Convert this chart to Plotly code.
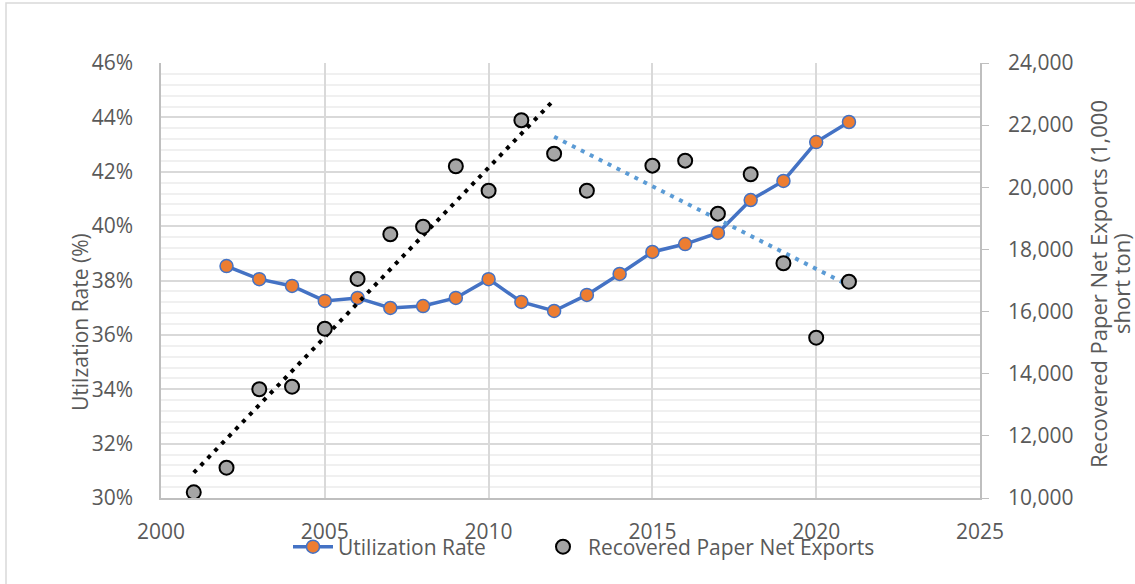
import numpy as np
import plotly.graph_objects as go

years = list(range(2001, 2022))
util_years = list(range(2002, 2022))
util_rate = [38.53, 38.05, 37.80, 37.25, 37.36, 36.99, 37.06, 37.36, 38.05, 37.21,
             36.88, 37.47, 38.24, 39.05, 39.34, 39.75, 40.96, 41.66, 43.09, 43.83]
exports = [10183, 10975, 13499, 13583, 15450, 17050, 18488, 18733, 20677, 19892,
           22158, 21083, 19892, None, 20697, 20858, 19152, 20420, 17555, 15160, 16963]

x_ticks = [2000, 2005, 2010, 2015, 2020, 2025]

# linear trend lines computed from the data
def trend(y0, y1):
    xs = np.array([y for y, v in zip(years, exports) if v is not None and y0 <= y <= y1], float)
    vs = np.array([v for y, v in zip(years, exports) if v is not None and y0 <= y <= y1], float)
    k, b = np.polyfit(xs, vs, 1)
    tx = np.array([y0, y1], float)
    return tx, k * tx + b

t1x, t1y = trend(2001, 2012)
t2x, t2y = trend(2012, 2021)

FONT = "Open Sans"
GRAY = "#595959"
W, H = 1135, 584
L, R, T, B = 161, 155, 63, 86
pw, ph = W - L - R, H - T - B

def px2x(px):
    return (px - L) / pw

def px2y(py):
    return (H - B - py) / ph

fig = go.Figure()

fig.add_trace(go.Scatter(
    x=t1x, y=t1y, yaxis="y2", mode="lines",
    line=dict(color="black", width=4, dash="4px,6px"),
    showlegend=False, hoverinfo="skip"))
fig.add_trace(go.Scatter(
    x=t2x, y=t2y, yaxis="y2", mode="lines",
    line=dict(color="#5B9BD5", width=4, dash="4px,6px"),
    showlegend=False, hoverinfo="skip"))

fig.add_trace(go.Scatter(
    x=util_years, y=util_rate, mode="lines+markers", name="Utilization Rate",
    line=dict(color="#4472C4", width=3.5), legend="legend",
    marker=dict(color="#ED7D31", size=13, line=dict(color="#4472C4", width=1.5))))

fig.add_trace(go.Scatter(
    x=years, y=exports, yaxis="y2", mode="markers", name="Recovered Paper Net Exports",
    legend="legend2",
    marker=dict(color="#A5A5A5", size=14, line=dict(color="black", width=2))))

leg_common = dict(orientation="h", xanchor="left", y=px2y(547), yanchor="middle",
                  font=dict(size=21, color=GRAY), bgcolor="rgba(0,0,0,0)",
                  itemwidth=40)

fig.update_layout(
    width=W, height=H,
    margin=dict(l=L, r=R, t=T, b=B, autoexpand=False),
    paper_bgcolor="white", plot_bgcolor="white",
    font=dict(family=FONT, size=21, color=GRAY),
    xaxis=dict(range=[2000, 2025], tickvals=x_ticks, showgrid=True,
               gridcolor="#d9d9d9", gridwidth=1.5, showline=True,
               linecolor="#bfbfbf", linewidth=1.5, zeroline=False,
               ticks="", ticklabelstandoff=14, tickfont=dict(size=21, color=GRAY)),
    yaxis=dict(range=[30, 46], dtick=2, ticksuffix="%", showgrid=True,
               gridcolor="#d9d9d9", gridwidth=1.5, showline=True,
               linecolor="#bfbfbf", linewidth=1.5, zeroline=False,
               ticks="", ticklabelstandoff=22,
               minor=dict(dtick=0.4, showgrid=True, gridcolor="#f0f0f0", gridwidth=1.5),
               tickfont=dict(size=21, color=GRAY)),
    yaxis2=dict(range=[10000, 24000], dtick=2000, tickformat=",", overlaying="y",
                side="right", showgrid=False, showline=True, linecolor="#bfbfbf",
                linewidth=1.5, zeroline=False, ticks="outside", ticklen=7,
                tickcolor="#bfbfbf", ticklabelstandoff=15,
                tickfont=dict(size=21, color=GRAY)),
    legend=dict(x=px2x(288), **leg_common),
    legend2=dict(x=px2x(538), **leg_common),
    showlegend=True,
)

fig.add_annotation(text="Utilzation Rate (%)", xref="paper", yref="paper",
                   x=px2x(80), y=px2y(322), textangle=-90, showarrow=False,
                   font=dict(size=21, color=GRAY), xanchor="center", yanchor="middle")
fig.add_annotation(text="Recovered Paper Net Exports (1,000",
                   xref="paper", yref="paper", x=px2x(1098), y=px2y(284),
                   textangle=-90, showarrow=False,
                   font=dict(size=22, color=GRAY), xanchor="center", yanchor="middle")
fig.add_annotation(text="short ton)",
                   xref="paper", yref="paper", x=px2x(1121), y=px2y(284),
                   textangle=-90, showarrow=False,
                   font=dict(size=22, color=GRAY), xanchor="center", yanchor="middle")

fig.add_shape(type="rect", xref="paper", yref="paper",
              x0=px2x(6), x1=px2x(1145), y0=px2y(600), y1=px2y(3),
              line=dict(color="#d9d9d9", width=1.5), layer="below")

fig.write_html("out.html", config=dict(displayModeBar=False),
               post_script="document.body.style.margin='0';")
